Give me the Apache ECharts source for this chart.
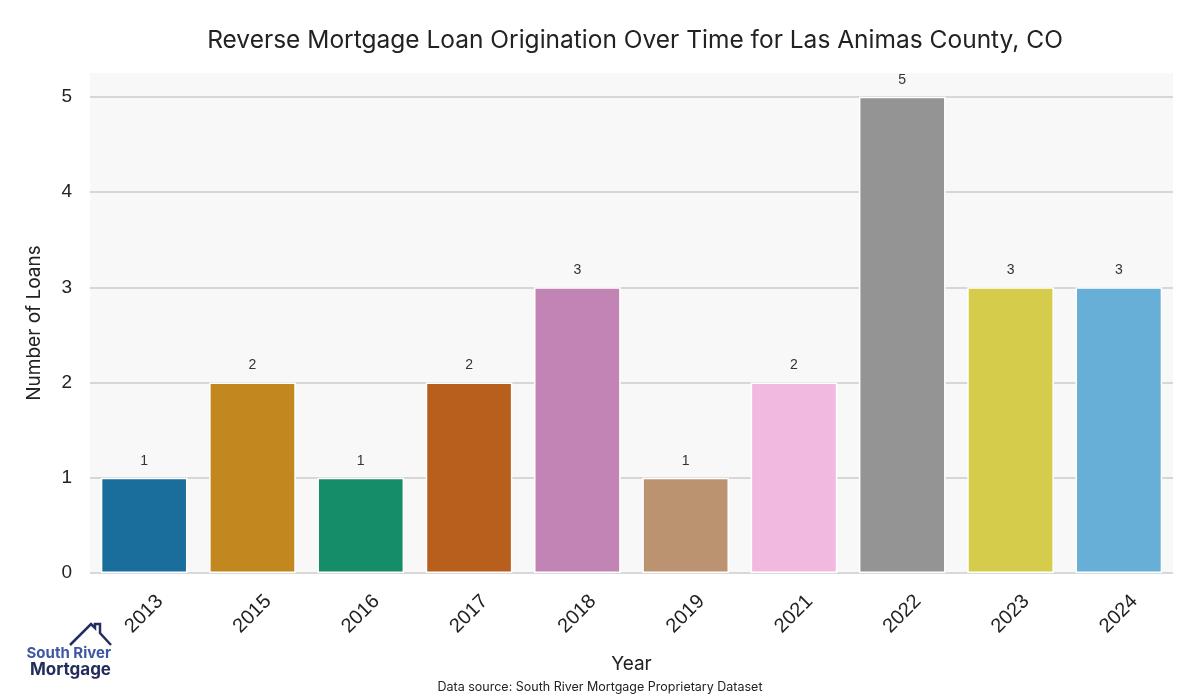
<!DOCTYPE html>
<html><head><meta charset="utf-8">
<script src="https://cdn.jsdelivr.net/npm/echarts@6/dist/echarts.min.js"></script>
<style>html,body{margin:0;padding:0;background:#fff}#c{width:1200px;height:700px}</style>
</head><body><div id="c"></div>
<script>
const years = ['2013','2015','2016','2017','2018','2019','2021','2022','2023','2024'];
const loans = [1,2,1,2,3,1,2,5,3,3];
const barColors = ['#1a6e9c','#c3871f','#168d69','#b85f1e','#c283b5','#bb9370','#f1b8e0','#949494','#d6cc4b','#67afd7'];
const yTicks = [0,1,2,3,4,5];

const chart = echarts.init(document.getElementById('c'));
chart.setOption({
  backgroundColor:'#ffffff',
  animation:false,
  title:{text:'Reverse Mortgage Loan Origination Over Time for Las Animas County, CO',left:630,top:23,textAlign:'center',
    textStyle:{fontFamily:'Inter',fontSize:24.5,fontWeight:'normal',color:'#222'}},
  grid:{left:90,right:27,top:73,bottom:127,show:true,backgroundColor:'#f8f8f8',borderWidth:0},
  xAxis:{type:'category',data:years,name:'Year',nameLocation:'middle',nameGap:82,
    nameTextStyle:{fontFamily:'Inter',fontSize:19,color:'#222'},
    axisLine:{show:false},axisTick:{show:false},
    axisLabel:{rotate:45,align:'center',verticalAlign:'middle',margin:41,fontFamily:'Liberation Sans',fontSize:20,color:'#222'}},
  yAxis:{type:'value',min:0,max:5.25,interval:1,name:'Number of Loans',nameLocation:'middle',nameGap:46,
    nameTextStyle:{fontFamily:'Inter',fontSize:19,color:'#222'},
    axisLine:{show:false},axisTick:{show:false},
    axisLabel:{showMaxLabel:false,margin:18,fontFamily:'Liberation Sans',fontSize:19,color:'#222',
      formatter:v=>yTicks.includes(v)?String(v):''},
    splitLine:{show:true,showMaxLine:false,lineStyle:{color:'#cccccc',width:1.5}}},
  series:[{type:'bar',barWidth:'80%',
    data:loans.map((v,i)=>({value:v,itemStyle:{color:barColors[i]}})),
    itemStyle:{borderColor:'#ffffff',borderWidth:1.5},
    label:{show:true,position:'top',distance:10,fontFamily:'Liberation Sans',fontSize:14,color:'#333'}}],
  graphic:[
    {type:'text',left:'center',top:681,style:{text:'Data source: South River Mortgage Proprietary Dataset',fontFamily:'Inter',fontSize:12.5,fill:'#222'}},
    {type:'polyline',shape:{points:[[70,645],[91,624],[95,628],[95,624],[100,624],[100,633],[111,645]]},style:{stroke:'#252d5e',lineWidth:2.5,fill:null}},
    {type:'text',x:111,y:646,style:{text:'South River',align:'right',fontFamily:'Inter',fontWeight:'bold',fontSize:15,fill:'#3f57a3'}},
    {type:'text',x:111,y:661,style:{text:'Mortgage',align:'right',fontFamily:'Inter',fontWeight:'bold',fontSize:17,fill:'#242c5c'}}
  ]
});
</script></body></html>
